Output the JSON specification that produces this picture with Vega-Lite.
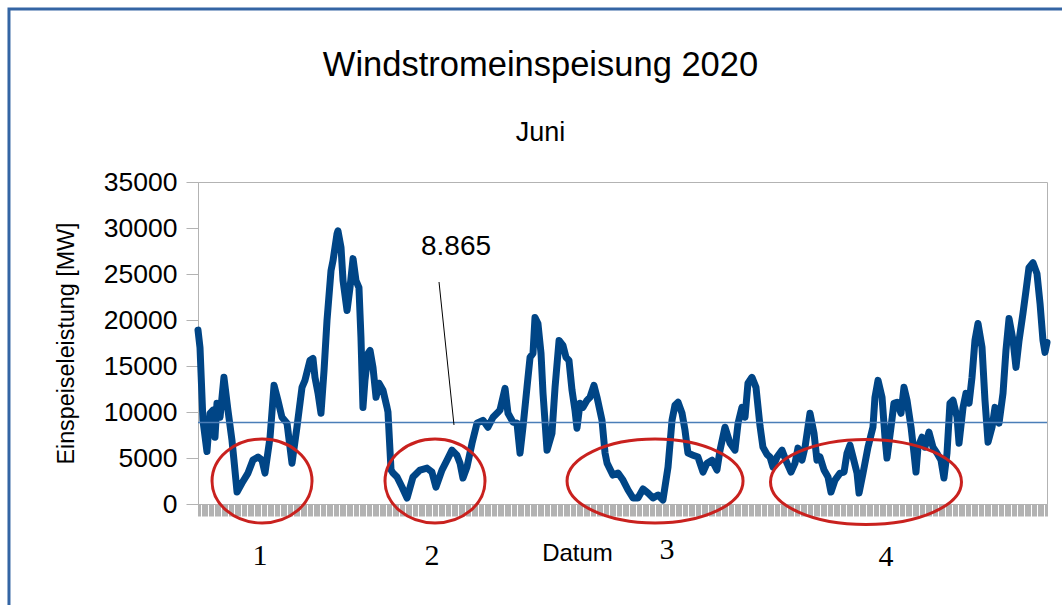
{
  "$schema": "https://vega.github.io/schema/vega-lite/v6.json",
  "width": 849,
  "height": 322,
  "autosize": {"type": "none"},
  "padding": {"left": 198, "top": 182, "right": 15, "bottom": 101},
  "background": "white",
  "title": {
    "text": "Windstromeinspeisung 2020",
    "subtitle": "Juni",
    "anchor": "middle",
    "frame": "group",
    "dx": -82,
    "dy": 166,
    "offset": 27,
    "subtitlePadding": 36,
    "font": "Liberation Sans",
    "fontSize": 34.5,
    "fontWeight": "normal",
    "color": "black",
    "subtitleFont": "Liberation Sans",
    "subtitleFontSize": 27,
    "subtitleColor": "black"
  },
  "config": {
    "view": {"stroke": "#b3b3b3", "strokeWidth": 1},
    "font": "Liberation Sans"
  },
  "datasets": {
    "one": [{}],
    "wind": [
      {"t": 0, "v": 18900}, {"t": 1.7, "v": 17000}, {"t": 4.2, "v": 9100}, {"t": 7.6, "v": 5700},
      {"t": 10.2, "v": 9860}, {"t": 12.7, "v": 10200}, {"t": 14.4, "v": 7260}, {"t": 16.1, "v": 10950},
      {"t": 18.7, "v": 9430}, {"t": 22.0, "v": 13770}, {"t": 25.4, "v": 10200}, {"t": 28.8, "v": 6940},
      {"t": 30.5, "v": 4770}, {"t": 33.1, "v": 1300}, {"t": 37.3, "v": 2280}, {"t": 42.4, "v": 3360},
      {"t": 46.6, "v": 4770}, {"t": 50.9, "v": 5100}, {"t": 54.3, "v": 4770}, {"t": 56.8, "v": 3360},
      {"t": 61.1, "v": 7260}, {"t": 64.5, "v": 12900}, {"t": 67.8, "v": 11270}, {"t": 71.2, "v": 9430},
      {"t": 75.5, "v": 8780}, {"t": 79.7, "v": 4440}, {"t": 83.9, "v": 8350}, {"t": 88.2, "v": 12680},
      {"t": 90.7, "v": 13440}, {"t": 94.9, "v": 15600}, {"t": 97.5, "v": 15830}, {"t": 99.2, "v": 13770},
      {"t": 101.8, "v": 12030}, {"t": 104.3, "v": 9860}, {"t": 106.9, "v": 14530}, {"t": 109.4, "v": 19950},
      {"t": 112.8, "v": 25370}, {"t": 114.5, "v": 26450}, {"t": 117.9, "v": 29380}, {"t": 118.7, "v": 29700},
      {"t": 121.3, "v": 27860}, {"t": 123.0, "v": 24280}, {"t": 126.4, "v": 21030}, {"t": 128.9, "v": 23520},
      {"t": 131.5, "v": 26670}, {"t": 134.0, "v": 24280}, {"t": 136.5, "v": 23520}, {"t": 138.2, "v": 18100},
      {"t": 139.9, "v": 10500}, {"t": 141.6, "v": 13440}, {"t": 144.2, "v": 16370}, {"t": 145.9, "v": 16700},
      {"t": 148.4, "v": 14850}, {"t": 151.0, "v": 11600}, {"t": 153.5, "v": 13120}, {"t": 156.9, "v": 12360},
      {"t": 160.3, "v": 10500}, {"t": 161.1, "v": 10000}, {"t": 163.7, "v": 3700}, {"t": 165.4, "v": 3360},
      {"t": 168.8, "v": 2930}, {"t": 173.0, "v": 1840}, {"t": 177.3, "v": 650}, {"t": 182.3, "v": 2930},
      {"t": 188.3, "v": 3690}, {"t": 194.2, "v": 3900}, {"t": 198.4, "v": 3470}, {"t": 201.8, "v": 1840},
      {"t": 206.9, "v": 3690}, {"t": 211.2, "v": 4770}, {"t": 215.4, "v": 5850}, {"t": 219.6, "v": 5310},
      {"t": 222.2, "v": 4440}, {"t": 224.7, "v": 2820}, {"t": 228.1, "v": 4010}, {"t": 232.4, "v": 6610},
      {"t": 236.6, "v": 8780}, {"t": 241.7, "v": 9100}, {"t": 245.9, "v": 8350}, {"t": 250.2, "v": 9430},
      {"t": 254.4, "v": 9970}, {"t": 256.1, "v": 10200}, {"t": 260.4, "v": 12570}, {"t": 262.9, "v": 9860},
      {"t": 267.1, "v": 8900}, {"t": 270.5, "v": 8780}, {"t": 273.1, "v": 5530}, {"t": 275.6, "v": 8350},
      {"t": 279.0, "v": 12680}, {"t": 281.6, "v": 15940}, {"t": 284.1, "v": 16370}, {"t": 285.8, "v": 20270},
      {"t": 288.3, "v": 19620}, {"t": 290.9, "v": 16370}, {"t": 292.6, "v": 12030}, {"t": 296.0, "v": 5850},
      {"t": 300.2, "v": 7700}, {"t": 302.8, "v": 12680}, {"t": 306.2, "v": 17780}, {"t": 309.5, "v": 17240},
      {"t": 312.1, "v": 15940}, {"t": 314.6, "v": 15610}, {"t": 317.2, "v": 12360}, {"t": 319.7, "v": 10200},
      {"t": 321.4, "v": 8240}, {"t": 324.0, "v": 10950}, {"t": 326.5, "v": 10500}, {"t": 329.9, "v": 11270},
      {"t": 332.4, "v": 11600}, {"t": 335.8, "v": 12900}, {"t": 338.4, "v": 11600}, {"t": 342.6, "v": 9100},
      {"t": 345.2, "v": 5530}, {"t": 346.9, "v": 4440}, {"t": 351.9, "v": 3140}, {"t": 356.2, "v": 3360},
      {"t": 360.4, "v": 2600}, {"t": 364.7, "v": 1520}, {"t": 368.9, "v": 650}, {"t": 373.1, "v": 650},
      {"t": 377.4, "v": 1630}, {"t": 381.6, "v": 1190}, {"t": 385.9, "v": 650}, {"t": 390.1, "v": 980},
      {"t": 394.3, "v": 430}, {"t": 398.6, "v": 4010}, {"t": 402.0, "v": 9100}, {"t": 404.5, "v": 10730},
      {"t": 407.1, "v": 11060}, {"t": 410.5, "v": 9860}, {"t": 413.0, "v": 8020}, {"t": 415.5, "v": 5530},
      {"t": 419.8, "v": 5310}, {"t": 424.0, "v": 5100}, {"t": 428.3, "v": 3470}, {"t": 431.7, "v": 4440},
      {"t": 435.9, "v": 4770}, {"t": 440.1, "v": 3690}, {"t": 442.7, "v": 5850}, {"t": 446.9, "v": 8350},
      {"t": 451.2, "v": 6610}, {"t": 455.4, "v": 5850}, {"t": 458.0, "v": 8780}, {"t": 461.3, "v": 10500},
      {"t": 463.9, "v": 9430}, {"t": 466.4, "v": 13120}, {"t": 469.8, "v": 13770}, {"t": 473.2, "v": 12680},
      {"t": 476.6, "v": 8500}, {"t": 479.1, "v": 6180}, {"t": 482.5, "v": 5400}, {"t": 485.1, "v": 5100},
      {"t": 487.6, "v": 4010}, {"t": 491.0, "v": 5100}, {"t": 495.3, "v": 5850}, {"t": 499.5, "v": 4440},
      {"t": 502.9, "v": 3470}, {"t": 506.3, "v": 4440}, {"t": 508.8, "v": 6070}, {"t": 512.2, "v": 4770},
      {"t": 514.8, "v": 6180}, {"t": 519.0, "v": 9860}, {"t": 522.4, "v": 7700}, {"t": 524.9, "v": 4770},
      {"t": 527.5, "v": 5100}, {"t": 530.9, "v": 3690}, {"t": 534.3, "v": 2930}, {"t": 536.8, "v": 1300},
      {"t": 540.2, "v": 2600}, {"t": 544.5, "v": 3360}, {"t": 547.9, "v": 3470}, {"t": 550.4, "v": 5530},
      {"t": 552.9, "v": 6400}, {"t": 555.5, "v": 5100}, {"t": 558.9, "v": 3360}, {"t": 560.6, "v": 1190},
      {"t": 564.0, "v": 3360}, {"t": 568.2, "v": 6180}, {"t": 572.4, "v": 8350}, {"t": 574.1, "v": 11600},
      {"t": 576.7, "v": 13440}, {"t": 580.1, "v": 11600}, {"t": 582.6, "v": 7260}, {"t": 584.3, "v": 4990},
      {"t": 587.7, "v": 8350}, {"t": 590.2, "v": 10950}, {"t": 592.8, "v": 11060}, {"t": 596.2, "v": 9860},
      {"t": 598.7, "v": 12680}, {"t": 601.3, "v": 11270}, {"t": 604.7, "v": 8350}, {"t": 607.2, "v": 5530},
      {"t": 608.9, "v": 3470}, {"t": 610.6, "v": 6180}, {"t": 614.0, "v": 7260}, {"t": 616.5, "v": 6180},
      {"t": 619.9, "v": 7810}, {"t": 623.3, "v": 6180}, {"t": 626.7, "v": 5530}, {"t": 630.1, "v": 4770},
      {"t": 632.6, "v": 2820}, {"t": 635.2, "v": 5530}, {"t": 637.7, "v": 10950}, {"t": 640.3, "v": 11270},
      {"t": 643.7, "v": 9430}, {"t": 645.4, "v": 6610}, {"t": 648.8, "v": 10500}, {"t": 651.3, "v": 12030},
      {"t": 653.9, "v": 10950}, {"t": 656.4, "v": 13770}, {"t": 658.9, "v": 17780}, {"t": 661.5, "v": 19620},
      {"t": 664.9, "v": 17020}, {"t": 667.4, "v": 11270}, {"t": 670.0, "v": 6720}, {"t": 673.4, "v": 8350},
      {"t": 675.9, "v": 10500}, {"t": 679.3, "v": 8780}, {"t": 682.7, "v": 12030}, {"t": 685.2, "v": 16700},
      {"t": 687.8, "v": 20160}, {"t": 691.2, "v": 17780}, {"t": 693.7, "v": 14850}, {"t": 696.3, "v": 17780},
      {"t": 699.6, "v": 20700}, {"t": 702.2, "v": 23200}, {"t": 704.7, "v": 25690}, {"t": 708.1, "v": 26230},
      {"t": 711.5, "v": 25040}, {"t": 714.1, "v": 21790}, {"t": 716.6, "v": 17780}, {"t": 718.3, "v": 16480},
      {"t": 720.0, "v": 17560}
    ],
    "ellipses": [
      {"e": "1", "t": 54.3, "v": 2500},
      {"e": "2", "t": 201.0, "v": 2500},
      {"e": "3", "t": 387.6, "v": 2500},
      {"e": "4", "t": 566.5, "v": 2390}
    ],
    "nums": [
      {"n": "1", "t": 52.6, "v": -5650},
      {"n": "2", "t": 198.4, "v": -5650},
      {"n": "3", "t": 397.7, "v": -5000},
      {"n": "4", "t": 583.5, "v": -5760}
    ]
  },
  "layer": [
    {
      "data": {"name": "one"},
      "mark": {"type": "rect", "filled": false, "stroke": "#3465a4", "strokeWidth": 3},
      "encoding": {
        "x": {"datum": -160.3, "type": "quantitative"},
        "x2": {"datum": 2000},
        "y": {"datum": 53800, "type": "quantitative"},
        "y2": {"datum": -60000}
      }
    },
    {
      "data": {"name": "wind"},
      "mark": {"type": "line", "color": "#004586", "strokeWidth": 7, "strokeCap": "round", "strokeJoin": "round"},
      "encoding": {
        "x": {
          "field": "t", "type": "quantitative",
          "scale": {"domain": [0, 720], "nice": false, "zero": false},
          "axis": {
            "title": "Datum",
            "labels": false,
            "grid": false,
            "tickCount": 720,
            "tickColor": "#b3b3b3",
            "tickSize": 12,
            "tickWidth": 1,
            "domainColor": "#b3b3b3",
            "titleFont": "Liberation Sans",
            "titleFontSize": 24,
            "titleFontWeight": "normal",
            "titleColor": "black",
            "titleX": 379,
            "titleY": 49,
            "titleBaseline": "middle",
            "titleAlign": "center"
          }
        },
        "y": {
          "field": "v", "type": "quantitative",
          "scale": {"domain": [0, 35000], "nice": false},
          "axis": {
            "title": "Einspeiseleistung [MW]",
            "values": [0, 5000, 10000, 15000, 20000, 25000, 30000, 35000],
            "format": "d",
            "labelFont": "Liberation Sans",
            "labelFontSize": 26.5,
            "labelColor": "black",
            "labelPadding": 9,
            "tickColor": "#b3b3b3",
            "tickSize": 12,
            "gridColor": "#b3b3b3",
            "domainColor": "#b3b3b3",
            "titleFont": "Liberation Sans",
            "titleFontSize": 23.3,
            "titleFontWeight": "normal",
            "titleColor": "black",
            "titleAngle": -90,
            "titleX": -132,
            "titleY": 161,
            "titleBaseline": "middle",
            "titleAlign": "center"
          }
        }
      }
    },
    {
      "data": {"name": "one"},
      "mark": {"type": "rule", "color": "#4a7eb8", "strokeWidth": 1.5},
      "encoding": {"y": {"datum": 8865, "type": "quantitative"}}
    },
    {
      "data": {"name": "one"},
      "mark": {"type": "rule", "color": "black", "strokeWidth": 1},
      "encoding": {
        "x": {"datum": 204.4, "type": "quantitative"},
        "y": {"datum": 24130, "type": "quantitative"},
        "x2": {"datum": 217.1},
        "y2": {"datum": 8587}
      }
    },
    {
      "data": {"name": "one"},
      "mark": {"type": "text", "text": "8.865", "font": "Liberation Sans", "fontSize": 28, "color": "black", "align": "center", "baseline": "middle"},
      "encoding": {
        "x": {"datum": 218.8, "type": "quantitative"},
        "y": {"datum": 27935, "type": "quantitative"}
      }
    },
    {
      "data": {"name": "ellipses"},
      "transform": [{"filter": "datum.e === '1' || datum.e === '2'"}],
      "mark": {"type": "point", "filled": false, "stroke": "#c9211e", "strokeWidth": 3, "opacity": 1, "size": 10000,
        "shape": "M -1 0 C -1 -0.464 -0.552 -0.84 0 -0.84 C 0.552 -0.84 1 -0.464 1 0 C 1 0.464 0.552 0.84 0 0.84 C -0.552 0.84 -1 0.464 -1 0 Z"},
      "encoding": {
        "x": {"field": "t", "type": "quantitative"},
        "y": {"field": "v", "type": "quantitative"}
      }
    },
    {
      "data": {"name": "ellipses"},
      "transform": [{"filter": "datum.e === '3'"}],
      "mark": {"type": "point", "filled": false, "stroke": "#c9211e", "strokeWidth": 3, "opacity": 1, "size": 30976,
        "shape": "M -1 0 C -1 -0.263 -0.552 -0.477 0 -0.477 C 0.552 -0.477 1 -0.263 1 0 C 1 0.263 0.552 0.477 0 0.477 C -0.552 0.477 -1 0.263 -1 0 Z"},
      "encoding": {
        "x": {"field": "t", "type": "quantitative"},
        "y": {"field": "v", "type": "quantitative"}
      }
    },
    {
      "data": {"name": "ellipses"},
      "transform": [{"filter": "datum.e === '4'"}],
      "mark": {"type": "point", "filled": false, "stroke": "#c9211e", "strokeWidth": 3, "opacity": 1, "size": 36481,
        "shape": "M -1 0 C -1 -0.246 -0.552 -0.445 0 -0.445 C 0.552 -0.445 1 -0.246 1 0 C 1 0.246 0.552 0.445 0 0.445 C -0.552 0.445 -1 0.246 -1 0 Z"},
      "encoding": {
        "x": {"field": "t", "type": "quantitative"},
        "y": {"field": "v", "type": "quantitative"}
      }
    },
    {
      "data": {"name": "nums"},
      "mark": {"type": "text", "font": "Liberation Serif", "fontSize": 30, "color": "black", "align": "center", "baseline": "middle"},
      "encoding": {
        "x": {"field": "t", "type": "quantitative"},
        "y": {"field": "v", "type": "quantitative"},
        "text": {"field": "n"}
      }
    }
  ]
}
